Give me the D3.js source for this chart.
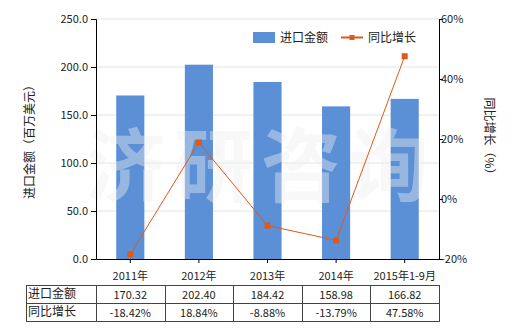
<!DOCTYPE html>
<html>
<head>
<meta charset="utf-8">
<script src="https://cdn.jsdelivr.net/npm/d3@7"></script>
<style>
  body { margin: 0; background: #fff; }
  svg text { font-family: "Noto Sans CJK SC", "DejaVu Sans", sans-serif; font-size: 11px; fill: #222; }
</style>
</head>
<body>
<div id="chart"></div>
<script>
// data
const categories = ['2011年', '2012年', '2013年', '2014年', '2015年1-9月'];
const importValues = [170.32, 202.40, 184.42, 158.98, 166.82];
const growthValues = [-18.42, 18.84, -8.88, -13.79, 47.58];
const leftTicks = [0, 50, 100, 150, 200, 250];
const rightTicks = [-20, 0, 20, 40, 60];
const seriesNames = ['进口金额', '同比增长'];
const watermark = ['济', '研', '咨', '询'];

const W = 520, H = 330;
const m = {left: 96, right: 81, top: 19, bottom: 71};
const barColor = '#5b8fd6', lineColor = '#dd5a1a';

const svg = d3.select('#chart').append('svg')
  .attr('width', W).attr('height', H);

const x = d3.scaleBand()
  .domain(categories)
  .range([m.left, W - m.right])
  .paddingInner(0.59).paddingOuter(0.295);

const yL = d3.scaleLinear().domain([0, 250]).range([H - m.bottom, m.top]);
const yR = d3.scaleLinear().domain([-20, 60]).range([H - m.bottom, m.top]);

// grid
svg.append('g')
  .selectAll('line')
  .data(leftTicks.slice(1))
  .join('line')
  .attr('x1', m.left).attr('x2', W - m.right)
  .attr('y1', d => yL(d)).attr('y2', d => yL(d))
  .attr('stroke', '#e4e4e4').attr('stroke-width', 1);

// bars
svg.append('g')
  .selectAll('rect')
  .data(importValues)
  .join('rect')
  .attr('x', (d, i) => x(categories[i]))
  .attr('y', d => yL(d))
  .attr('width', x.bandwidth())
  .attr('height', d => yL(0) - yL(d))
  .attr('fill', barColor);

// watermark, one glyph per slot
svg.append('g')
  .selectAll('text')
  .data(watermark)
  .join('text')
  .attr('x', (d, i) => 126 + i * 87.5)
  .attr('y', 195)
  .attr('text-anchor', 'middle')
  .style('font-size', '80px')
  .style('font-weight', 'bold')
  .style('fill', '#eeeeee')
  .style('fill-opacity', 0.42)
  .text(d => d);

// line
const cx = (d, i) => x(categories[i]) + x.bandwidth() / 2;
svg.append('path')
  .datum(growthValues)
  .attr('fill', 'none')
  .attr('stroke', lineColor)
  .attr('stroke-width', 1)
  .attr('d', d3.line().x(cx).y(d => yR(d)));

svg.append('g')
  .selectAll('rect')
  .data(growthValues)
  .join('rect')
  .attr('x', (d, i) => cx(d, i) - 3)
  .attr('y', d => yR(d) - 3)
  .attr('width', 6).attr('height', 6)
  .attr('fill', lineColor);

// axes
const leftAxis = d3.axisLeft(yL).tickValues(leftTicks).tickSize(5)
  .tickFormat(d => d.toFixed(1));
svg.append('g')
  .attr('transform', `translate(${m.left},0)`)
  .call(leftAxis)
  .call(g => g.selectAll('text').style('font-size', '11px').attr('fill', '#222'))
  .call(g => g.selectAll('line, path').attr('stroke', '#000'));

const rightAxis = d3.axisRight(yR).tickValues(rightTicks).tickSize(4)
  .tickFormat(d => d + '%');
svg.append('g')
  .attr('transform', `translate(${W - m.right},0)`)
  .call(rightAxis)
  .call(g => g.selectAll('text').attr('x', 2).style('font-size', '11px').attr('fill', '#222'))
  .call(g => g.selectAll('line, path').attr('stroke', '#000'));

const bottomAxis = d3.axisBottom(x).tickSize(4).tickSizeOuter(0);
svg.append('g')
  .attr('transform', `translate(0,${H - m.bottom})`)
  .call(bottomAxis)
  .call(g => g.selectAll('text').attr('dy', '1.25em').style('font-size', '11px').attr('fill', '#222'))
  .call(g => g.selectAll('line, path').attr('stroke', '#000'));

// axis titles
svg.append('text')
  .attr('transform', `translate(34,${(m.top + H - m.bottom) / 2}) rotate(-90)`)
  .attr('text-anchor', 'middle')
  .style('font-size', '12px')
  .text('进口金额（百万美元）');

svg.append('text')
  .attr('transform', `translate(485,${(m.top + H - m.bottom) / 2}) rotate(90)`)
  .attr('text-anchor', 'middle')
  .style('font-size', '12px')
  .text('同比增长（%）');

// legend
const lg = svg.append('g');
lg.append('rect').attr('x', 253).attr('y', 32).attr('width', 22).attr('height', 11).attr('fill', barColor);
lg.append('text').attr('x', 280).attr('y', 42).style('font-size', '12px').text(seriesNames[0]);
lg.append('line').attr('x1', 341).attr('x2', 363).attr('y1', 37.5).attr('y2', 37.5)
  .attr('stroke', lineColor).attr('stroke-width', 2);
lg.append('rect').attr('x', 349.5).attr('y', 35).attr('width', 5).attr('height', 5).attr('fill', lineColor);
lg.append('text').attr('x', 368).attr('y', 42).style('font-size', '12px').text(seriesNames[1]);

// data table
const tTop = 285, rowH = 18, tLeft = 26;
const colEdges = [tLeft].concat(categories.map(c => x(c) - x.step() * x.paddingInner() / 2), [W - m.right]);
const rows = [
  {name: seriesNames[0], vals: importValues.map(v => v.toFixed(2))},
  {name: seriesNames[1], vals: growthValues.map(v => v.toFixed(2) + '%')}
];
const tg = svg.append('g');
tg.append('rect')
  .attr('x', tLeft + 0.5).attr('y', tTop + 0.5)
  .attr('width', W - m.right - tLeft).attr('height', rowH * 2)
  .attr('fill', 'none').attr('stroke', '#444');
tg.append('line')
  .attr('x1', tLeft).attr('x2', W - m.right)
  .attr('y1', tTop + rowH + 0.5).attr('y2', tTop + rowH + 0.5)
  .attr('stroke', '#444');
colEdges.slice(1, -1).forEach(e => {
  tg.append('line')
    .attr('x1', Math.round(e) + 0.5).attr('x2', Math.round(e) + 0.5)
    .attr('y1', tTop).attr('y2', tTop + rowH * 2)
    .attr('stroke', '#444');
});
rows.forEach((r, ri) => {
  tg.append('text')
    .attr('x', tLeft + 2).attr('y', tTop + ri * rowH + 13)
    .style('font-size', '12px')
    .text(r.name);
  r.vals.forEach((v, i) => {
    tg.append('text')
      .attr('x', x(categories[i]) + x.bandwidth() / 2)
      .attr('y', tTop + ri * rowH + 14)
      .attr('text-anchor', 'middle')
      .style('font-size', '11px')
      .text(v);
  });
});
</script>
</body>
</html>
